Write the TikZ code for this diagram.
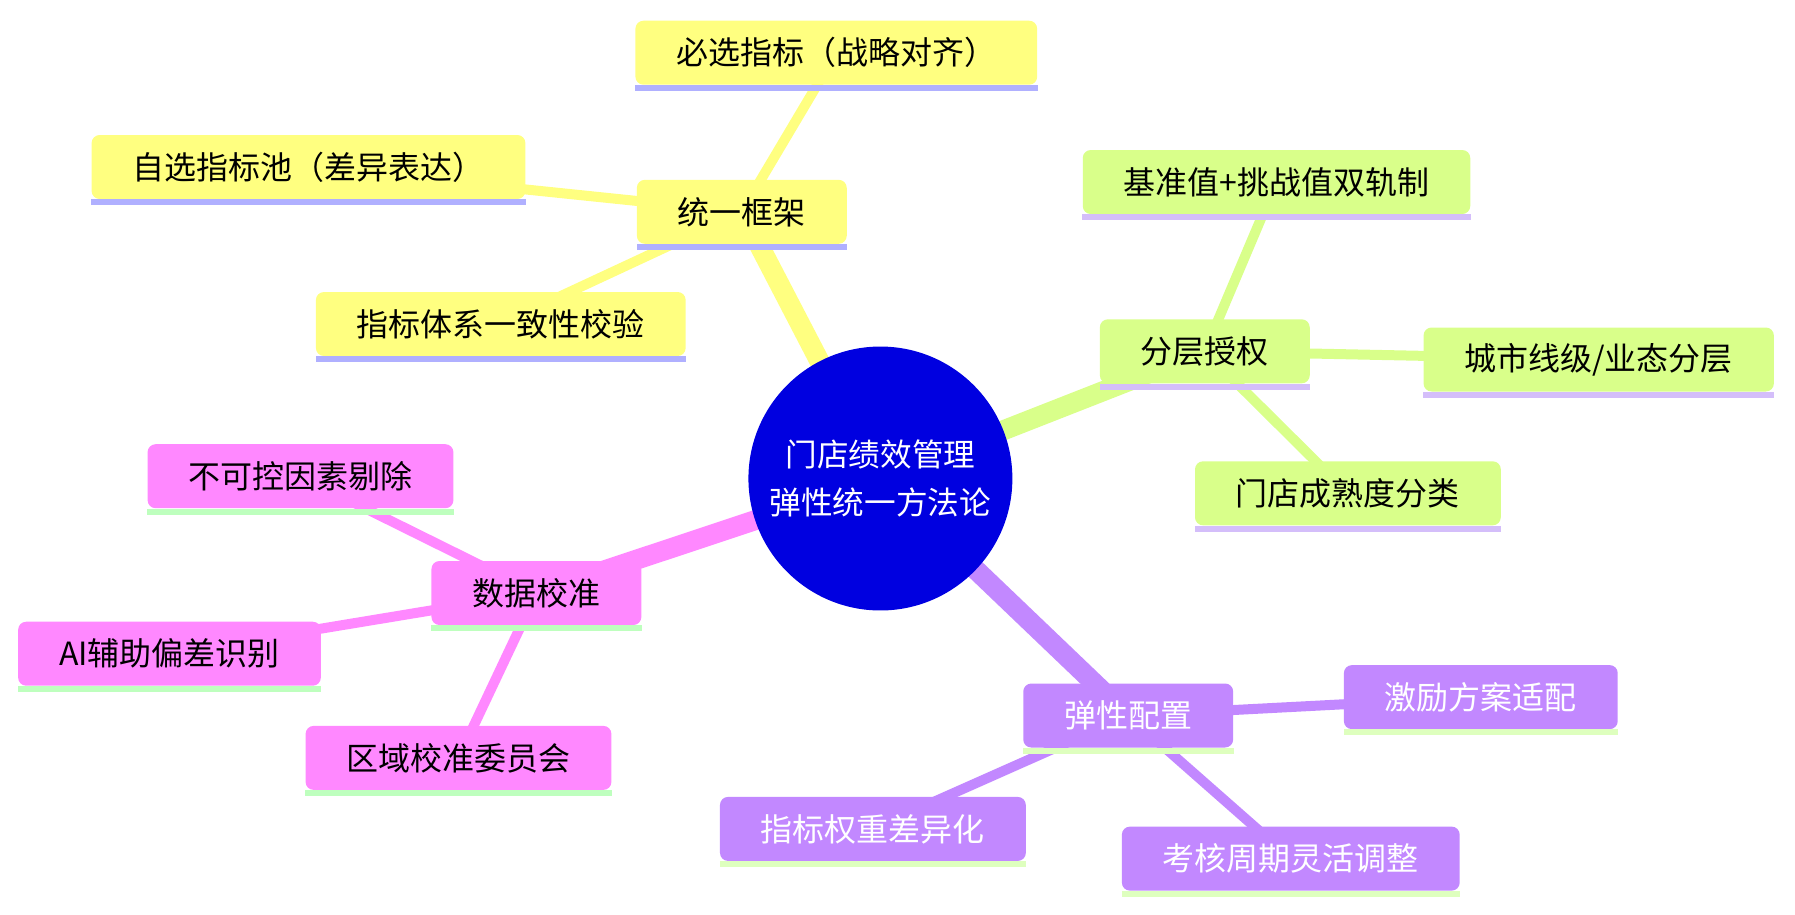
\documentclass[tikz,border=0pt]{standalone}
\usepackage{fontspec}
\setmainfont{Noto Sans CJK SC}
\usetikzlibrary{calc, backgrounds}
\definecolor{rootblue}{RGB}{0,0,224}
\definecolor{ylwfill}{RGB}{255,255,128}
\definecolor{ylwline}{RGB}{176,176,255}
\definecolor{grnfill}{RGB}{217,255,138}
\definecolor{grnline}{RGB}{212,190,250}
\definecolor{pnkfill}{RGB}{255,136,255}
\definecolor{pnkline}{RGB}{190,255,190}
\definecolor{prpfill}{RGB}{194,136,255}
\definecolor{prpline}{RGB}{222,255,190}
\tikzset{
  root/.style    = {circle, fill=rootblue, text=white, minimum size=5.28cm,
                    align=center, font=\fontsize{18}{27}\selectfont},
  topic/.style   = {rectangle, rounded corners=0.16cm, minimum height=1.28cm,
                    inner xsep=0.82cm, font=\fontsize{18.2}{21}\selectfont},
  ylwbox/.style  = {topic, fill=ylwfill},
  grnbox/.style  = {topic, fill=grnfill},
  pnkbox/.style  = {topic, fill=pnkfill},
  prpbox/.style  = {topic, fill=prpfill, text=white},
  mainlink/.style = {line width=0.4cm},
  sublink/.style  = {line width=0.2cm},
}

\begin{document}
\begin{tikzpicture}[x=0.02cm, y=-0.02cm]
  \useasboundingbox (0,0) rectangle (1795,914);
  % centre
  \node[root] (root) at (880.4,478.5) {门店绩效管理\\弹性统一方法论};
  % branch: unified frame
  \node[ylwbox] (tongyi) at (741.8,211.8) {统一框架};
  \node[ylwbox] (bixuan) at (836.3,52.7) {必选指标（战略对齐）};
  \node[ylwbox] (zixuan) at (308.5,167) {自选指标池（差异表达）};
  \node[ylwbox] (yizhi) at (500.8,324) {指标体系一致性校验};
  % branch: layered authority
  \node[grnbox] (fenceng) at (1204.8,351.3) {分层授权};
  \node[grnbox] (jizhun) at (1276.5,182) {基准值+挑战值双轨制};
  \node[grnbox] (chengshi) at (1598.7,359.5) {城市线级/业态分层};
  \node[grnbox] (mendian) at (1347.9,493.3) {门店成熟度分类};
  % branch: data calibration
  \node[pnkbox] (shuju) at (536.4,593) {数据校准};
  \node[pnkbox] (bukekong) at (300.5,476.2) {不可控因素剔除};
  \node[pnkbox] (aibias) at (169.5,653.7) {AI辅助偏差识别};
  \node[pnkbox] (quyu) at (458.5,757.9) {区域校准委员会};
  % branch: flexible setup
  \node[prpbox] (tanxing) at (1128.2,715.5) {弹性配置};
  \node[prpbox] (jili) at (1480.8,697.1) {激励方案适配};
  \node[prpbox] (quanzhong) at (872.9,828.9) {指标权重差异化};
  \node[prpbox] (kaohe) at (1290.8,858.6) {考核周期灵活调整};

  % links behind the boxes
  \begin{scope}[on background layer]
    \foreach \a/\b/\c in {root/tongyi/ylwfill, root/fenceng/grnfill,
                          root/shuju/pnkfill, root/tanxing/prpfill} {
      \draw[mainlink, \c] (\a.center) -- (\b.center);
    }
    \foreach \a/\b/\c in {tongyi/bixuan/ylwfill, tongyi/zixuan/ylwfill, tongyi/yizhi/ylwfill,
                          fenceng/jizhun/grnfill, fenceng/chengshi/grnfill, fenceng/mendian/grnfill,
                          shuju/bukekong/pnkfill, shuju/aibias/pnkfill, shuju/quyu/pnkfill,
                          tanxing/jili/prpfill, tanxing/quanzhong/prpfill, tanxing/kaohe/prpfill} {
      \draw[sublink, \c] (\a.center) -- (\b.center);
    }
  \end{scope}

  % underlines
  \foreach \n/\c in {tongyi/ylwline, bixuan/ylwline, zixuan/ylwline, yizhi/ylwline,
                     fenceng/grnline, jizhun/grnline, chengshi/grnline, mendian/grnline,
                     shuju/pnkline, bukekong/pnkline, aibias/pnkline, quyu/pnkline,
                     tanxing/prpline, jili/prpline, quanzhong/prpline, kaohe/prpline} {
    \fill[\c] (\n.south west) rectangle ($(\n.south east)+(0,6)$);
  }
\end{tikzpicture}
\end{document}
